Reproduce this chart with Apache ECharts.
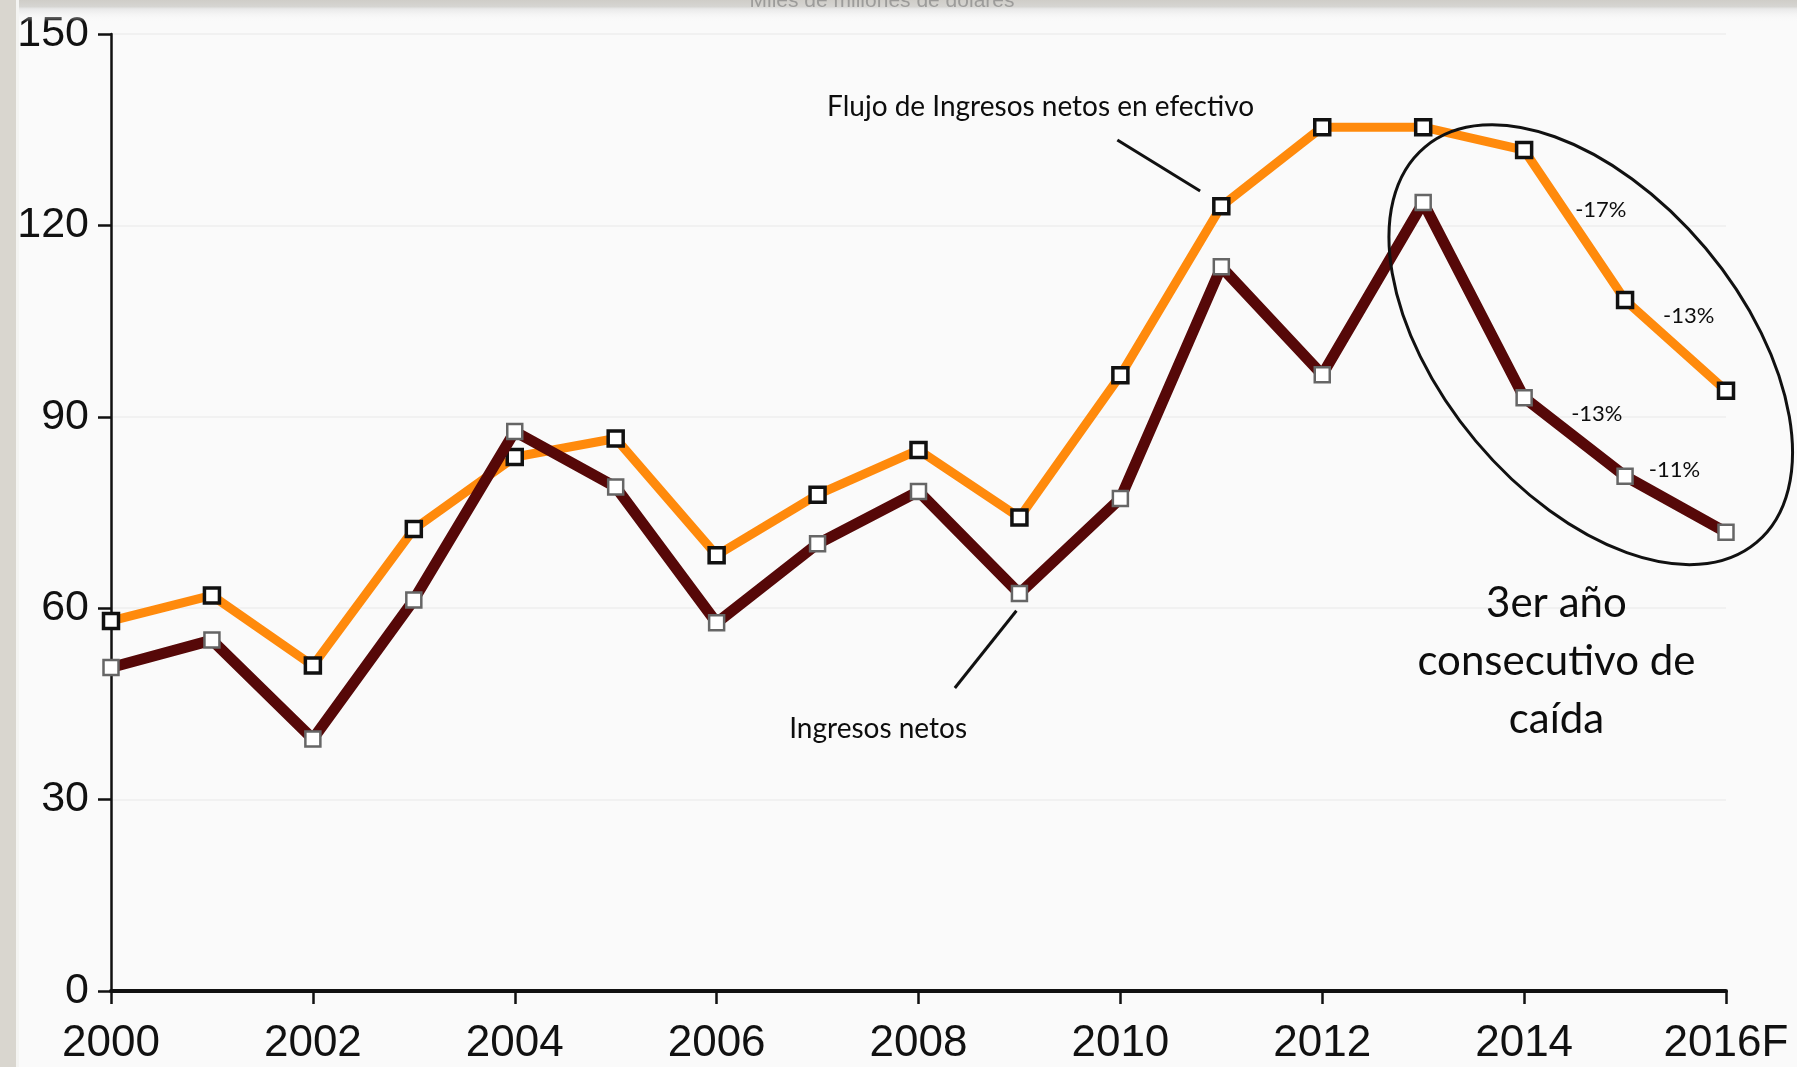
<!DOCTYPE html>
<html>
<head>
<meta charset="utf-8">
<title>Ingresos netos</title>
<script src="https://cdn.jsdelivr.net/npm/echarts@6/dist/echarts.min.js"></script>
<style>
html, body { margin: 0; padding: 0; background: #fafafa; }
#chart { width: 1797px; height: 1067px; }
</style>
</head>
<body>
<div id="chart"></div>
<script>
// data (miles de millones de dólares)
const years = [2000, 2001, 2002, 2003, 2004, 2005, 2006, 2007, 2008, 2009, 2010, 2011, 2012, 2013, 2014, 2015, 2016];
const flujoNeto = [58, 62, 51, 72.4, 83.7, 86.6, 68.3, 77.8, 84.8, 74.2, 96.5, 123, 135.4, 135.4, 131.8, 108.3, 94.1];
const ingresosNetos = [50.7, 55, 39.5, 61.3, 87.7, 79, 57.7, 70.1, 78.3, 62.3, 77.2, 113.5, 96.6, 123.6, 93, 80.7, 71.9];
const xLabels = ['2000', '2002', '2004', '2006', '2008', '2010', '2012', '2014', '2016F'];
const yTicks = [0, 30, 60, 90, 120, 150];
const flujoDrops = ['-17%', '-13%'];
const ingresosDrops = ['-13%', '-11%'];

const chart = echarts.init(document.getElementById('chart'));

const GRID = { left: 111, right: 71, top: 34, bottom: 76 };

const option = {
  backgroundColor: '#fafafa',
  animation: false,
  grid: GRID,
  xAxis: {
    type: 'value',
    min: years[0],
    max: years[years.length - 1],
    interval: 2,
    axisLine: { show: true, lineStyle: { color: '#111', width: 4 } },
    axisTick: { show: true, length: 13, lineStyle: { color: '#111', width: 2.5 } },
    axisLabel: {
      color: '#111',
      fontFamily: 'Liberation Sans',
      fontSize: 44,
      margin: 31,
      formatter: function (v) {
        return xLabels[(v - years[0]) / 2] || '';
      }
    },
    splitLine: { show: false }
  },
  yAxis: {
    type: 'value',
    min: yTicks[0],
    max: yTicks[yTicks.length - 1],
    interval: 30,
    axisLine: { show: true, lineStyle: { color: '#111', width: 2.5 } },
    axisTick: { show: true, length: 13, lineStyle: { color: '#111', width: 2.5 } },
    axisLabel: {
      color: '#111',
      fontFamily: 'Liberation Sans',
      fontSize: 43,
      margin: 22
    },
    splitLine: { show: true, lineStyle: { color: '#f1f1f1', width: 2 } }
  },
  series: [
    {
      name: 'Flujo de Ingresos netos en efectivo',
      type: 'line',
      data: years.map((y, i) => [y, flujoNeto[i]]),
      lineStyle: { color: '#ff8a0c', width: 9 },
      symbol: 'rect',
      symbolSize: 15,
      itemStyle: { color: '#ffffff', borderColor: '#111', borderWidth: 3.5 },
      z: 2
    },
    {
      name: 'Ingresos netos',
      type: 'line',
      data: years.map((y, i) => [y, ingresosNetos[i]]),
      lineStyle: { color: '#560808', width: 11 },
      symbol: 'rect',
      symbolSize: 15,
      itemStyle: { color: '#ffffff', borderColor: '#666', borderWidth: 2.5 },
      z: 3
    }
  ]
};
chart.setOption(option);

// annotations, anchored in data space
function px(x, y) { return chart.convertToPixel({ gridIndex: 0 }, [x, y]); }

function note(text, x, y, size) {
  const p = px(x, y);
  return {
    type: 'text', x: p[0], y: p[1], z: 20,
    style: {
      text: text, fill: '#0d0d0d', font: size + 'px Lato',
      align: 'center', verticalAlign: 'middle'
    }
  };
}

function pointer(x1, y1, x2, y2) {
  const a = px(x1, y1), b = px(x2, y2);
  return {
    type: 'line', z: 20,
    shape: { x1: a[0], y1: a[1], x2: b[0], y2: b[1] },
    style: { stroke: '#111', lineWidth: 3 }
  };
}

const c = px(2014.66, 101.3);

chart.setOption({
  graphic: [
    // window frame around the screenshot
    { type: 'rect', left: 0, top: 0, z: 30, shape: { width: 16, height: 1067 }, style: { fill: '#d9d6cf' } },
    { type: 'rect', left: 16, top: 0, z: 30, shape: { width: 3, height: 1067 }, style: { fill: '#f4f4f2' } },
    {
      type: 'rect', left: 0, top: 0, z: 29, shape: { width: 1797, height: 22 },
      style: {
        fill: new echarts.graphic.LinearGradient(0, 0, 0, 1, [
          { offset: 0, color: '#cfcdc8' }, { offset: 0.3, color: '#d6d5d2' },
          { offset: 0.4, color: '#e8e8e8' }, { offset: 1, color: 'rgba(250,250,250,0)' }
        ])
      }
    },
    {
      type: 'text', x: 882, y: -9, z: 31,
      style: { text: 'Miles de millones de dólares', fill: 'rgba(120,120,120,0.6)', font: '21px Liberation Sans', align: 'center' }
    },
    note('Flujo de Ingresos netos en efectivo', 2009.21, 138.6, 28),
    pointer(2009.97, 133.4, 2010.79, 125.4),
    note('Ingresos netos', 2007.6, 41.1, 28),
    pointer(2008.36, 47.5, 2008.97, 59.6),
    note(flujoDrops[0], 2014.76, 122.5, 22),
    note(flujoDrops[1], 2015.63, 105.8, 22),
    note(ingresosDrops[0], 2014.72, 90.5, 22),
    note(ingresosDrops[1], 2015.49, 81.7, 22),
    note('3er año', 2014.32, 60.8, 42),
    note('consecutivo de', 2014.32, 51.7, 42),
    note('caída', 2014.32, 42.5, 42),
    {
      type: 'ellipse', z: 19,
      x: c[0], y: c[1], rotation: -50 * Math.PI / 180,
      shape: { cx: 0, cy: 0, rx: 258, ry: 150 },
      style: { fill: 'none', stroke: '#111', lineWidth: 3 }
    }
  ]
});
</script>
</body>
</html>
